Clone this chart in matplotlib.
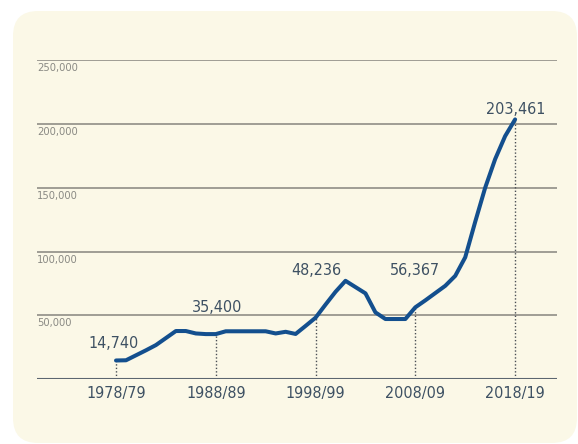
import matplotlib.pyplot as plt
from matplotlib.patches import FancyBboxPatch
from matplotlib.transforms import blended_transform_factory

years = list(range(1978, 2019))
values = [14740, 14900, 18800, 22700, 26800, 32300, 37800, 37800, 35900, 35400,
          35400, 37600, 37600, 37600, 37600, 37600, 35900, 37200, 35500, 41800,
          48236, 58500, 68500, 77100, 72200, 67300, 52400, 47200, 47200, 47200,
          56367, 61800, 67500, 73200, 81000, 95500, 123300, 150000, 172400, 190400,
          203461]

tick_years = [1978, 1988, 1998, 2008, 2018]
tick_labels = ["1978/79", "1988/89", "1998/99", "2008/09", "2018/19"]
grid_values = [50000, 100000, 150000, 200000, 250000]
grid_labels = ["50,000", "100,000", "150,000", "200,000", "250,000"]

label_years = [1978, 1988, 1998, 2008, 2018]
label_texts = ["14,740", "35,400", "48,236", "56,367", "203,461"]
label_offsets = [(-2, 17), (1, 27), (1, 47), (0, 37), (1, 10)]

line_color = "#134f8e"
text_color = "#3e5163"
cream = "#fbf8e7"

fig = plt.figure(figsize=(5.78, 4.44), dpi=100)
fig.patch.set_facecolor("white")
bg = FancyBboxPatch((0.13, 0.01), 5.64, 4.32, boxstyle="round,pad=0,rounding_size=0.25",
                    transform=fig.dpi_scale_trans, facecolor=cream, edgecolor="none", zorder=-10)
fig.patches.append(bg)

ax = fig.add_axes([0.064, 0.1457, 0.8997, 0.7192])
ax.set_facecolor("none")
ax.set_xlim(1970.08, 2022.2)
ax.set_ylim(0, 250000)

for v in grid_values:
    ax.axhline(v, color="#8f8e86", lw=1.2, zorder=1)
ax.axhline(0, color="#5c6670", lw=1.5, zorder=3)

trans = blended_transform_factory(ax.transAxes, ax.transData)
for v, lab in zip(grid_values, grid_labels):
    ax.annotate(lab, xy=(0, v), xycoords=trans, xytext=(0, -3), textcoords="offset pixels",
                ha="left", va="top", fontsize=8, color="#8a8a84",
                family="DejaVu Sans", fontstretch="condensed")

for yr, txt, off in zip(label_years, label_texts, label_offsets):
    val = values[years.index(yr)]
    ax.plot([yr, yr], [0, val], color="#4a4f55", lw=1.0, ls=(0, (1, 1.5)), zorder=2)
    ax.annotate(txt, xy=(yr, val), xytext=off, textcoords="offset pixels",
                ha="center", va="center", fontsize=11.5, color=text_color,
                family="DejaVu Sans", fontstretch="condensed")

ax.plot(years, values, color=line_color, lw=2.9, solid_joinstyle="round",
        solid_capstyle="round", zorder=4)

ax.set_xticks(tick_years)
ax.set_xticklabels(tick_labels, fontsize=11.5, color=text_color, family="DejaVu Sans",
                   fontstretch="condensed")
ax.tick_params(axis="x", length=0, pad=5)
ax.set_yticks([])
for s in ax.spines.values():
    s.set_visible(False)

fig.savefig("out.png", dpi=100)
